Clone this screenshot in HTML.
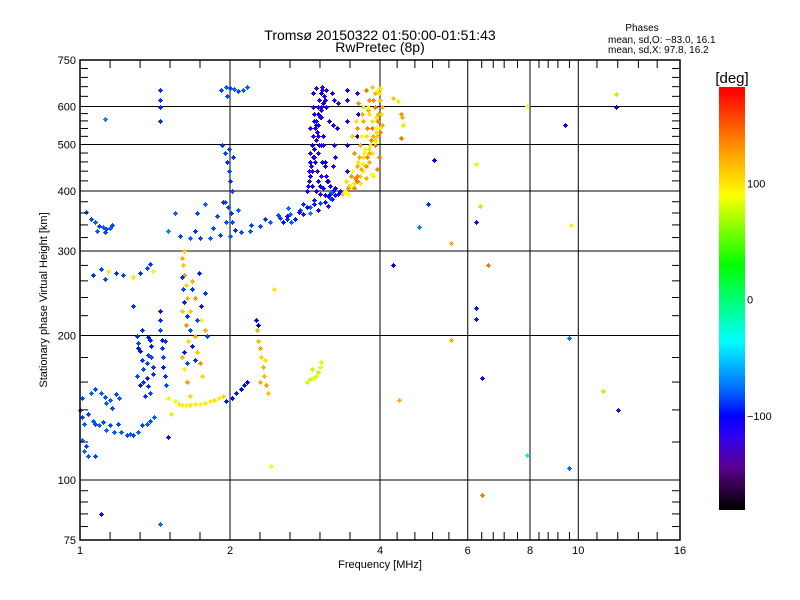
<!DOCTYPE html>
<html><head><meta charset="utf-8"><style>
html,body{margin:0;padding:0;background:#fff;}
svg{display:block;font-family:"Liberation Sans",sans-serif;}
</style></head><body>
<svg id="chart" width="800" height="600" viewBox="0 0 800 600" xmlns="http://www.w3.org/2000/svg">
<rect width="800" height="600" fill="#fff"/>
<text x="380" y="40" font-size="14" text-anchor="middle">Tromsø 20150322 01:50:00-01:51:43</text>
<text x="380" y="52" font-size="14" text-anchor="middle">RwPretec (8p)</text>
<text x="642" y="31" font-size="10" text-anchor="middle">Phases</text>
<text x="608" y="43" font-size="10">mean, sd,O: −83.0, 16.1</text>
<text x="608" y="53" font-size="10">mean, sd,X:  97.8, 16.2</text>
<text x="380" y="568" font-size="11" text-anchor="middle">Frequency [MHz]</text>
<text transform="translate(47,300) rotate(-90)" font-size="11" text-anchor="middle">Stationary phase Virtual Height [km]</text>
<text x="732" y="83" font-size="15" text-anchor="middle">[deg]</text>
<g id="grid"></g><g id="marks" shape-rendering="crispEdges"></g><g id="axes"></g><g id="cbar" shape-rendering="crispEdges"></g>
</svg>
<script>
const xMajor=[1,2,4,6,8,10,16];
const xLabels=["1","2","4","6","8","10","16"];
const xMinor=[1.149,1.32,1.516,1.741,2.297,2.639,3.031,3.482,4.33,4.7,5.1,5.5,6.4,6.75,7.1,7.55,8.34,8.7,9.1,9.6,10.9,12.0,13.2,14.4];
const yMajor=[75,100,200,300,400,500,600,750];
const yLabels=["75","100","200","300","400","500","600","750"];
const yMinor=[80,85,90,95,120,140,160,180,220,240,260,280,320,340,360,380,420,440,460,480,520,540,560,580,630,660,690,720];
const cbTicks=[100,0,-100];
const cbLabels=["100","0","−100"];

// points: frequency (MHz), virtual height (km), phase (deg)
const freqs=[
1.0,1.01,1.02,1.04,1.06,1.07,1.09,1.11,1.13,1.15,1.17,1.19,1.21,1.24,1.26,1.28,1.31,1.33,1.36,1.38,1.41,1.01,1.05,1.07,1.10,1.12,1.15,1.18,1.20,1.01,1.03,1.02,1.04,1.07,1.13,1.16,
1.30,1.31,1.32,1.33,1.34,1.36,1.37,1.38,1.39,1.40,1.30,1.32,1.35,1.37,1.38,1.33,1.36,1.31,1.34,1.39,1.37,1.40,
1.45,1.45,1.46,1.46,1.47,1.47,1.48,1.49,1.45,1.48,
1.60,1.61,1.62,1.63,1.64,1.66,1.63,1.65,1.60,1.62,1.64,1.66,1.70,1.72,1.74,1.76,1.78,1.62,1.70,1.75,1.68,1.60,
1.60,1.61,1.62,1.64,1.66,1.68,1.70,1.72,1.75,1.78,1.80,1.73,1.68,1.64,1.62,
1.50,1.55,1.58,1.60,1.63,1.66,1.70,1.74,1.78,1.82,1.86,1.90,1.94,1.52,
1.96,2.02,2.06,2.10,2.13,2.16,
2.27,2.28,2.30,2.31,2.33,2.34,2.36,2.38,2.30,2.35,2.26,2.28,
2.86,2.90,2.94,2.97,3.00,3.03,3.05,2.92,
1.59,1.66,1.74,1.82,1.91,2.0,2.10,2.19,2.30,2.41,2.52,2.64,2.76,2.90,3.03,3.17,3.32,
1.70,1.85,2.05,2.20,2.35,2.50,2.62,2.80,2.95,3.10,3.25,1.72,1.78,1.88,1.95,2.02,2.08,
1.93,1.95,1.97,1.99,2.00,2.02,1.94,1.98,2.01,1.96,2.03,1.99,
1.92,1.96,2.00,2.04,2.08,2.12,1.97,2.16,
1.45,1.45,1.45,1.45,
2.88,2.92,2.96,3.00,3.04,3.08,2.90,2.95,3.00,3.05,3.10,2.94,2.98,3.02,3.06,3.12,2.92,2.97,3.03,3.08,2.95,3.00,3.05,3.10,3.14,3.18,3.22,3.22,3.23,3.22,3.23,3.43,3.43,3.44,3.43,3.44,3.60,3.60,3.61,3.60,2.86,2.90,3.06,3.12,3.16,3.20,
3.35,3.40,3.45,3.50,3.55,3.60,3.65,3.70,3.75,3.80,3.85,3.90,3.95,4.00,3.50,3.60,3.70,3.80,3.90,4.00,3.55,3.65,3.75,3.85,3.95,4.02,3.60,3.70,3.80,3.90,4.00,3.70,3.80,3.90,4.00,3.75,3.85,3.95,3.62,3.78,3.92,3.98,3.52,3.88,
4.25,4.35,4.40,4.42,4.45,4.40,
1.03,1.05,1.07,1.09,1.11,1.13,1.15,1.16,1.08,1.12,
1.06,1.10,1.14,1.18,1.22,1.28,1.32,1.36,1.40,1.38,1.12,
5.14,6.23,4.99,6.36,6.23,4.79,5.55,9.66,4.25,6.58,6.23,6.23,5.55,9.56,6.4,4.37,11.2,12.0,7.9,9.56,6.4,11.9,11.9,9.4,7.9,
1.10,1.45,2.42,1.50,1.12,1.55,1.28,2.45,2.60,1.50,
2.87,2.89,2.91,2.93,2.95,2.97,2.99,3.01,3.03,3.05,3.07,3.09,3.11,3.13,2.88,2.90,2.92,2.94,2.96,2.98,3.00,3.02,3.04,3.06,3.08,3.10,2.93,2.95,2.97,2.99,3.01,3.03,3.05,3.15,3.17,3.19,3.25,3.28,3.30,3.33,
2.55,2.60,2.70,2.75,2.80,2.85,2.95,3.00,3.10,3.15,3.20,3.25,3.30,2.65,2.90,
3.42,3.47,3.52,3.57,3.62,3.67,3.72,3.77,3.82,3.87,3.92,3.97,4.02,4.04,3.45,3.55,3.65,3.75,3.85,3.95,3.58,3.68,3.78,3.88,3.98,3.63,3.73,3.83,3.93,4.03,3.66,3.76,3.86,3.96,3.50,3.60,3.70,3.80,3.90,4.00
];
const heights=[
140,135,131,137,133,131,130,132,127,130,126,131,126,124,125,124,126,130,131,133,135,148,152,155,152,149,147,151,148,121,118,115,112,112,145,141,
200,193,186,178,170,163,157,152,190,172,165,158,150,182,196,205,175,188,160,180,199,166,
215,205,196,188,180,172,165,158,225,195,
290,280,268,255,240,225,210,195,180,170,160,150,200,185,175,165,205,300,240,215,260,225,
265,250,235,220,205,190,178,215,230,245,200,270,250,175,185,
148,146,144,143,143,143,144,144,145,146,147,148,150,137,
146,148,152,155,158,160,
205,195,188,180,172,165,158,152,160,178,215,210,
160,162,163,165,168,172,176,170,
322,320,319,320,324,322,329,331,338,345,352,359,365,371,378,387,398,
330,335,332,340,350,356,368,375,383,392,405,360,375,355,380,345,365,
500,480,460,440,420,400,380,370,360,345,470,490,
650,660,655,652,645,648,630,660,
650,620,600,560,
420,440,460,480,500,520,540,560,580,600,620,640,655,500,460,430,410,400,395,405,470,520,570,450,420,410,400,450,500,550,620,440,500,560,620,650,450,520,580,640,400,460,650,600,560,640,
395,400,405,410,415,420,430,440,450,460,480,500,520,540,430,450,470,490,510,530,480,500,520,540,560,580,540,560,580,600,620,600,620,640,655,650,660,645,610,590,570,470,520,430,
625,615,580,570,550,515,
362,350,345,338,336,333,335,340,330,328,
268,275,272,270,268,265,270,276,272,282,262,
465,455,375,373,345,336,312,340,280,280,228,217,196,198,163,147,153,140,113,106,93,638,598,548,602,
85,81,107,123,565,360,230,250,350,330,
410,430,450,470,490,510,530,550,570,590,610,630,650,420,440,480,500,520,540,560,600,620,640,660,500,460,600,580,550,440,420,410,430,390,395,398,470,540,610,400,
345,355,350,362,358,370,375,365,380,372,385,392,395,345,360,
420,410,440,425,460,445,480,470,500,520,540,560,580,600,395,405,415,425,435,445,560,580,600,620,640,470,490,510,530,550,520,540,560,580,410,430,455,480,505,530
];
const phases=[
-80,-85,-80,-85,-80,-85,-80,-85,-80,-85,-80,-85,-80,-85,-80,-85,-80,-85,-80,-85,-80,-85,-80,-85,-80,-85,-80,-85,-80,-75,-85,-75,-80,-85,-80,-85,
-90,-85,-95,-90,-85,-95,-90,-85,-95,-90,-85,-95,-90,-85,-95,-90,-85,-95,-90,-85,-95,-90,
-90,-85,-95,-90,-85,-95,-90,-85,-95,-90,
120,110,130,105,120,110,130,105,120,95,130,105,120,110,130,105,120,110,130,95,120,110,
-90,-85,-95,-90,-85,-95,-90,-85,-95,-90,-85,-95,-90,-85,-95,
95,92,98,95,92,98,95,92,98,95,100,95,105,80,
-95,-100,-95,-100,-95,-100,
120,115,125,105,120,115,125,110,120,100,-100,-100,
80,75,85,80,75,85,80,75,
-85,-80,-85,-80,-85,-80,-85,-80,-85,-80,-85,-80,-85,-80,-85,-80,-95,
-90,-85,-90,-85,-90,-85,-75,-90,-95,-100,-105,-85,-80,-85,-80,-85,-80,
-90,-85,-90,-85,-90,-85,-90,-85,-90,-85,-90,-85,
-85,-80,-85,-80,-85,-80,-85,-80,
-90,-90,-90,-90,
-115,-110,-105,-115,-110,-105,-115,-110,-105,-115,-110,-105,-115,-110,-105,-115,-110,-105,-115,-110,-105,-115,-110,-105,-115,-110,-105,-115,-110,-105,-115,-110,-105,-115,-110,-105,-115,-110,-105,-115,-110,-105,-115,-110,-105,-115,
110,95,130,120,100,140,110,95,130,120,100,140,110,95,130,120,100,80,110,95,130,120,100,140,110,95,130,120,100,140,110,80,130,120,100,140,110,95,130,120,100,140,110,95,
110,95,130,120,100,140,
-80,-85,-80,-85,-80,-85,-80,-85,-80,-85,
-90,-85,95,-90,-85,100,-90,-85,95,-90,-85,
-100,95,-90,70,-120,-70,120,95,-100,140,-95,-95,120,-75,-105,120,70,-120,-40,-75,140,70,-100,-100,90,
-110,-75,95,-115,-70,-80,-90,100,-90,-70,
-110,-100,-120,-110,-100,-120,-110,-100,-120,-110,-100,-120,-110,-100,-120,-110,-100,-120,-110,-100,-120,-110,-100,-120,-110,-100,-120,-110,-100,-120,-110,-100,-120,-110,-100,-80,-110,-100,-120,-110,
-95,-110,-95,-110,-95,-110,-95,-110,-95,-110,-95,-110,-95,-80,-70,
100,120,90,135,100,120,90,135,100,120,90,135,100,120,90,135,100,120,90,135,100,120,90,135,100,120,90,135,100,120,90,135,100,120,90,135,100,120,90,135
];

const NS="http://www.w3.org/2000/svg";
const X0=80,X1=680,Y0=60,Y1=540;
function xs(f){return X0+(X1-X0)*Math.log(f)/Math.log(16);}
function ys(h){return Y1-480*Math.log10(h/75);}
function mk(tag,attrs,parent){const e=document.createElementNS(NS,tag);for(const k in attrs)e.setAttribute(k,attrs[k]);parent.appendChild(e);return e;}
const stops=[[-180,0,0,0],[-145,90,0,140],[-118,50,0,240],[-100,0,0,255],[-80,0,95,255],[-36,0,255,255],[30,0,255,0],[90,255,255,0],[130,255,150,0],[180,255,0,0]];
function cmap(p){
  if(p<=stops[0][0])return "rgb(0,0,0)";
  for(let i=1;i<stops.length;i++){if(p<=stops[i][0]){const a=stops[i-1],b=stops[i],t=(p-a[0])/(b[0]-a[0]);
    return "rgb("+[1,2,3].map(k=>Math.round(a[k]+(b[k]-a[k])*t)).join(",")+")";}}
  return "rgb(255,0,0)";
}
const grid=document.getElementById('grid'),axes=document.getElementById('axes'),marks=document.getElementById('marks'),cbar=document.getElementById('cbar');
xMajor.slice(1,-1).forEach(v=>{const l=mk('line',{x1:xs(v),x2:xs(v),y1:Y0,y2:Y1,stroke:'#000','stroke-width':1},grid);

});
yMajor.slice(1,-1).forEach(v=>{const l=mk('line',{x1:X0,x2:X1,y1:ys(v),y2:ys(v),stroke:'#000','stroke-width':1},grid);

});
for(let i=0;i<freqs.length;i++){
  const cx=Math.round(xs(freqs[i])),cy=Math.round(ys(heights[i])),c=cmap(phases[i]);
  const g=mk('g',{fill:c},marks);
  
  
  mk('rect',{x:cx-2,y:cy,width:5,height:1},g);
  mk('rect',{x:cx,y:cy-2,width:1,height:5},g);
  mk('rect',{x:cx-1,y:cy-1,width:3,height:3},g);
}
const fr=mk('rect',{x:X0,y:Y0,width:X1-X0,height:Y1-Y0,fill:'none',stroke:'#000','stroke-width':1.5},axes);


xMinor.forEach(v=>{const x=xs(v);mk('line',{x1:x,x2:x,y1:Y1,y2:Y1-8,stroke:'#000'},axes);mk('line',{x1:x,x2:x,y1:Y0,y2:Y0+8,stroke:'#000'},axes);});
yMinor.forEach(v=>{const y=ys(v);mk('line',{x1:X0,x2:X0+8,y1:y,y2:y,stroke:'#000'},axes);mk('line',{x1:X1,x2:X1-8,y1:y,y2:y,stroke:'#000'},axes);});
xMajor.forEach((v,i)=>{const t=mk('text',{x:xs(v),y:554,'font-size':11,'text-anchor':'middle'},axes);t.textContent=xLabels[i];

});
yMajor.forEach((v,i)=>{const t=mk('text',{x:76,y:ys(v)+4,'font-size':11,'text-anchor':'end'},axes);t.textContent=yLabels[i];

});
const CB0=87,CB1=510,cmax=183,cmin=-181;
function cy(p){return CB0+(cmax-p)/(cmax-cmin)*(CB1-CB0);}
for(let y=CB0;y<CB1;y++){const p=cmax-(y-CB0+0.5)/(CB1-CB0)*(cmax-cmin);
  mk('rect',{x:719,y:y,width:26,height:1,fill:cmap(p)},cbar);}
const cbr=mk('rect',{x:719,y:CB0,width:26,height:CB1-CB0,fill:'none',stroke:'none'},cbar);


cbTicks.forEach((v,i)=>{const t=mk('text',{x:747,y:cy(v)+4,'font-size':11},cbar);t.textContent=cbLabels[i];

});
</script>
</body></html>
